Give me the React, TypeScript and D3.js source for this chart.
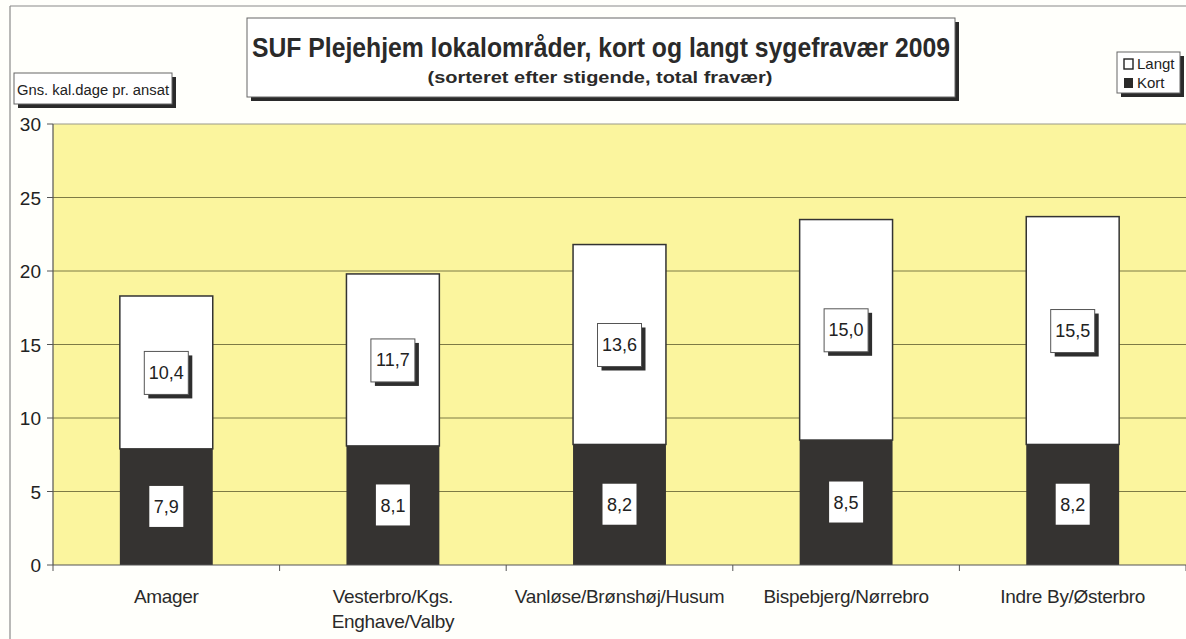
import React from 'react'
import * as d3 from 'd3'

const categories = [
  ['Amager'],
  ['Vesterbro/Kgs.', 'Enghave/Valby'],
  ['Vanløse/Brønshøj/Husum'],
  ['Bispebjerg/Nørrebro'],
  ['Indre By/Østerbro'],
]
const kort = [7.9, 8.1, 8.2, 8.5, 8.2]
const langt = [10.4, 11.7, 13.6, 15.0, 15.5]
const yTicks = [0, 5, 10, 15, 20, 25, 30]

const W = 1186
const H = 639
const font = '"Liberation Sans", Arial, sans-serif'
const fmt = (v: number) => v.toFixed(1).replace('.', ',')

export default function App() {
  const x = d3.scaleBand<number>().domain(d3.range(categories.length)).range([53, 1186]).paddingInner(0.59).paddingOuter(0.295)
  const y = d3.scaleLinear().domain([0, 30]).range([565, 124])
  const bw = x.bandwidth()
  const step = x.step()

  return (
    <svg width={W} height={H} style={{ position: 'absolute', left: 0, top: 0 }} fontFamily={font}>
      <rect x={0} y={0} width={W} height={H} fill="#fffffb" />
      {/* outer frame */}
      <line x1={10} y1={6} x2={W} y2={6} stroke="#8a8a8a" strokeWidth={1.2} />
      <line x1={10} y1={6} x2={10} y2={H} stroke="#8a8a8a" strokeWidth={1.2} />

      {/* plot area */}
      <rect x={53} y={y(30)} width={W - 53} height={y(0) - y(30)} fill="#fbf59e" />
      <line x1={53} x2={W} y1={y(30)} y2={y(30)} stroke="#9a9a8a" strokeWidth={1.2} />
      {yTicks.filter(t => t > 0 && t < 30).map(t => (
        <line key={t} x1={53} x2={W} y1={y(t)} y2={y(t)} stroke="#7d7a45" strokeWidth={1} />
      ))}

      {/* bars */}
      {categories.map((_, i) => {
        const x0 = x(i)!
        const cx = x0 + bw / 2
        const tot = kort[i] + langt[i]
        const lm = (y(kort[i]) + y(tot)) / 2
        const km = (y(0) + y(kort[i])) / 2
        return (
          <g key={i}>
            <rect x={x0} y={y(tot)} width={bw} height={y(kort[i]) - y(tot)} fill="#ffffff" stroke="#333" strokeWidth={1.5} />
            <rect x={x0} y={y(kort[i])} width={bw} height={y(0) - y(kort[i])} fill="#353331" />
            {/* langt label */}
            <rect x={cx - 22 + 4} y={lm - 21 + 4} width={44} height={43} fill="#2e2e2e" />
            <rect x={cx - 22} y={lm - 21} width={44} height={43} fill="#fff" stroke="#555" strokeWidth={1} />
            <text x={cx} y={lm + 6.5} textAnchor="middle" fontSize={18} fill="#222">{fmt(langt[i])}</text>
            {/* kort label */}
            <rect x={cx - 17} y={km - 21} width={34} height={41} fill="#fff" />
            <text x={cx} y={km + 6.5} textAnchor="middle" fontSize={18} fill="#222">{fmt(kort[i])}</text>
          </g>
        )
      })}

      {/* axes */}
      <line x1={53} x2={53} y1={y(30)} y2={y(0)} stroke="#555" strokeWidth={1.2} />
      <line x1={53} x2={W} y1={y(0)} y2={y(0)} stroke="#555" strokeWidth={1.2} />
      {yTicks.map(t => (
        <g key={t}>
          <line x1={47} x2={53} y1={y(t)} y2={y(t)} stroke="#555" />
          <text x={41} y={y(t) + 7} textAnchor="end" fontSize={19} fill="#222">{t}</text>
        </g>
      ))}
      {d3.range(categories.length + 1).map(i => (
        <line key={i} x1={53 + i * step} x2={53 + i * step} y1={y(0)} y2={y(0) + 6} stroke="#555" />
      ))}
      {categories.map((lines, i) => (
        <text key={i} x={x(i)! + bw / 2} y={603} textAnchor="middle" fontSize={19} fill="#2a2a2a" letterSpacing={-0.3}>
          {lines.map((l, j) => (
            <tspan key={j} x={x(i)! + bw / 2} dy={j === 0 ? 0 : 25}>{l}</tspan>
          ))}
        </text>
      ))}

      {/* title box */}
      <rect x={251} y={22} width={708} height={79} fill="#2a2a2a" />
      <rect x={247} y={18} width={708} height={79} fill="#fff" stroke="#666" strokeWidth={1} />
      <text x={601} y={57} textAnchor="middle" fontSize={27} fontWeight="bold" fill="#2a2a2a" textLength={698} lengthAdjust="spacingAndGlyphs">SUF Plejehjem lokalområder, kort og langt sygefravær 2009</text>
      <text x={600} y={83} textAnchor="middle" fontSize={17} fontWeight="bold" fill="#2a2a2a" textLength={345} lengthAdjust="spacingAndGlyphs">(sorteret efter stigende, total fravær)</text>

      {/* y label box */}
      <rect x={18} y={77} width={158} height={31} fill="#2a2a2a" />
      <rect x={14} y={73} width={158} height={31} fill="#fff" stroke="#666" strokeWidth={1} />
      <text x={93} y={95} textAnchor="middle" fontSize={15.5} fill="#222" textLength={152} lengthAdjust="spacingAndGlyphs">Gns. kal.dage pr. ansat</text>

      {/* legend */}
      <rect x={1121} y={56} width={63} height={41} fill="#2a2a2a" />
      <rect x={1117} y={52} width={63} height={41} fill="#fff" stroke="#666" strokeWidth={1} />
      <rect x={1124} y={59} width={9} height={10} fill="#fff" stroke="#222" strokeWidth={1.4} />
      <text x={1137} y={69} fontSize={15} fill="#222">Langt</text>
      <rect x={1124} y={78} width={9} height={10} fill="#2a2a2a" />
      <text x={1137} y={88} fontSize={15} fill="#222">Kort</text>
    </svg>
  )
}
